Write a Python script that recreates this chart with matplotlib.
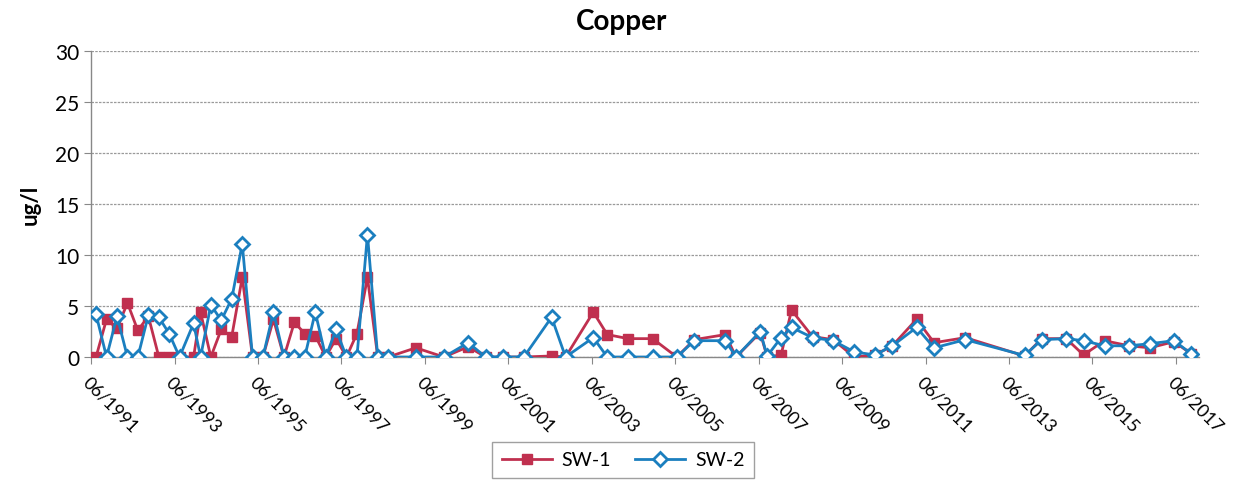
import matplotlib
matplotlib.use("Agg")
import matplotlib.pyplot as plt
import pandas as pd

dates = ["1991-07", "1991-10", "1992-01", "1992-04", "1992-07", "1992-10", "1993-01", "1993-04",
         "1993-07", "1993-11", "1994-01", "1994-04", "1994-07", "1994-10", "1995-01", "1995-04",
         "1995-07", "1995-10", "1996-01", "1996-04", "1996-07", "1996-10", "1997-01", "1997-04",
         "1997-07", "1997-10", "1998-01", "1998-04", "1998-07", "1999-03", "1999-11", "2000-06",
         "2000-11", "2001-04", "2001-10", "2002-06", "2002-10", "2003-06", "2003-10", "2004-04",
         "2004-11", "2005-06", "2005-11", "2006-08", "2006-11", "2007-06", "2007-08", "2007-12",
         "2008-03", "2008-09", "2009-03", "2009-09", "2010-03", "2010-08", "2011-03", "2011-08",
         "2012-05", "2013-10", "2014-03", "2014-10", "2015-03", "2015-09", "2016-04", "2016-10",
         "2017-05", "2017-10"]

sw1 = [0, 3.7, 2.8, 5.3, 2.6, 4.0, 0, 0,
       0, 0, 4.4, 0, 2.7, 2.0, 7.8, 0,
       0, 3.7, 0, 3.4, 2.3, 2.1, 0, 1.8,
       0, 2.3, 7.8, 0, 0, 0.9, 0, 1.0,
       0, 0, 0, 0.1, 0, 4.4, 2.2, 1.8,
       1.8, 0, 1.7, 2.2, 0, 2.4, 0, 0.2,
       4.6, 2.0, 1.7, 0, 0.2, 1.1, 3.7, 1.4,
       1.9, 0.1, 1.8, 1.8, 0.2, 1.6, 1.1, 0.9,
       1.5, 0.3]

sw2 = [4.2, 0, 4.0, 0, 0, 4.1, 3.9, 2.3,
       0, 3.3, 0, 5.1, 3.6, 5.7, 11.1, 0,
       0, 4.4, 0, 0, 0, 4.4, 0, 2.7,
       0, 0, 12.0, 0, 0, 0, 0, 1.4,
       0, 0, 0, 3.9, 0, 1.9, 0, 0,
       0, 0, 1.6, 1.6, 0, 2.5, 0.1, 1.9,
       2.9, 1.9, 1.6, 0.5, 0.2, 1.1, 2.9, 0.9,
       1.7, 0.15, 1.7, 1.8, 1.6, 1.1, 1.1, 1.3,
       1.6, 0.3]

tick_years = list(range(1991, 2018, 2))

x = pd.to_datetime(dates) + pd.Timedelta(days=14)

plt.rcParams['font.family'] = ['Lato', 'DejaVu Sans']

fig = plt.figure(figsize=(12.41, 4.89), dpi=100)
ax = fig.add_axes([91/1241, 1-358/489, (1199-91)/1241, (358-52)/489])

red = '#C0304F'
blue = '#1B7FBF'

ax.plot(x, sw1, color=red, lw=2.0, marker='s', ms=6.5, mfc=red, mec=red, label='SW-1', zorder=3)
ax.plot(x, sw2, color=blue, lw=2.0, marker='D', ms=7.5, mfc='white', mec=blue, mew=2.0,
        label='SW-2', zorder=4)

ax.set_ylim(0, 30)
ax.set_yticks(range(0, 31, 5))
ax.set_xlim(pd.Timestamp('1991-06-01'), pd.Timestamp('2017-12-20'))
ticks = [pd.Timestamp(f'{y}-06-01') for y in tick_years]
ax.set_xticks(ticks)
ax.set_xticklabels([f'06/{y}' for y in tick_years], rotation=-45, ha='left', va='top',
                   rotation_mode='anchor', fontsize=13)
ax.tick_params(axis='y', labelsize=15, length=5, color='#888888')
ax.tick_params(axis='x', length=5, color='#888888', pad=7)

ax.grid(axis='y', color='#9a9a9a', lw=0.9, ls=(0, (2, 1)))
ax.set_axisbelow(True)
for s in ['top', 'right']:
    ax.spines[s].set_visible(False)
for s in ['left', 'bottom']:
    ax.spines[s].set_color('#888888')
    ax.spines[s].set_linewidth(1.0)

ax.set_ylabel('ug/l', fontsize=16, fontweight='bold', labelpad=10)
fig.text(622/1241, 1-22/489, 'Copper', ha='center', va='center', fontsize=20, fontweight='bold')

leg = fig.legend(loc='center', bbox_to_anchor=(623/1241, 1-461/489), ncol=2, fontsize=14,
                 frameon=True, fancybox=False, edgecolor='#888888', handlelength=2.6,
                 handletextpad=0.5, columnspacing=1.2, borderpad=0.5)
leg.get_frame().set_linewidth(1.0)

fig.savefig('out.png', dpi=100)
